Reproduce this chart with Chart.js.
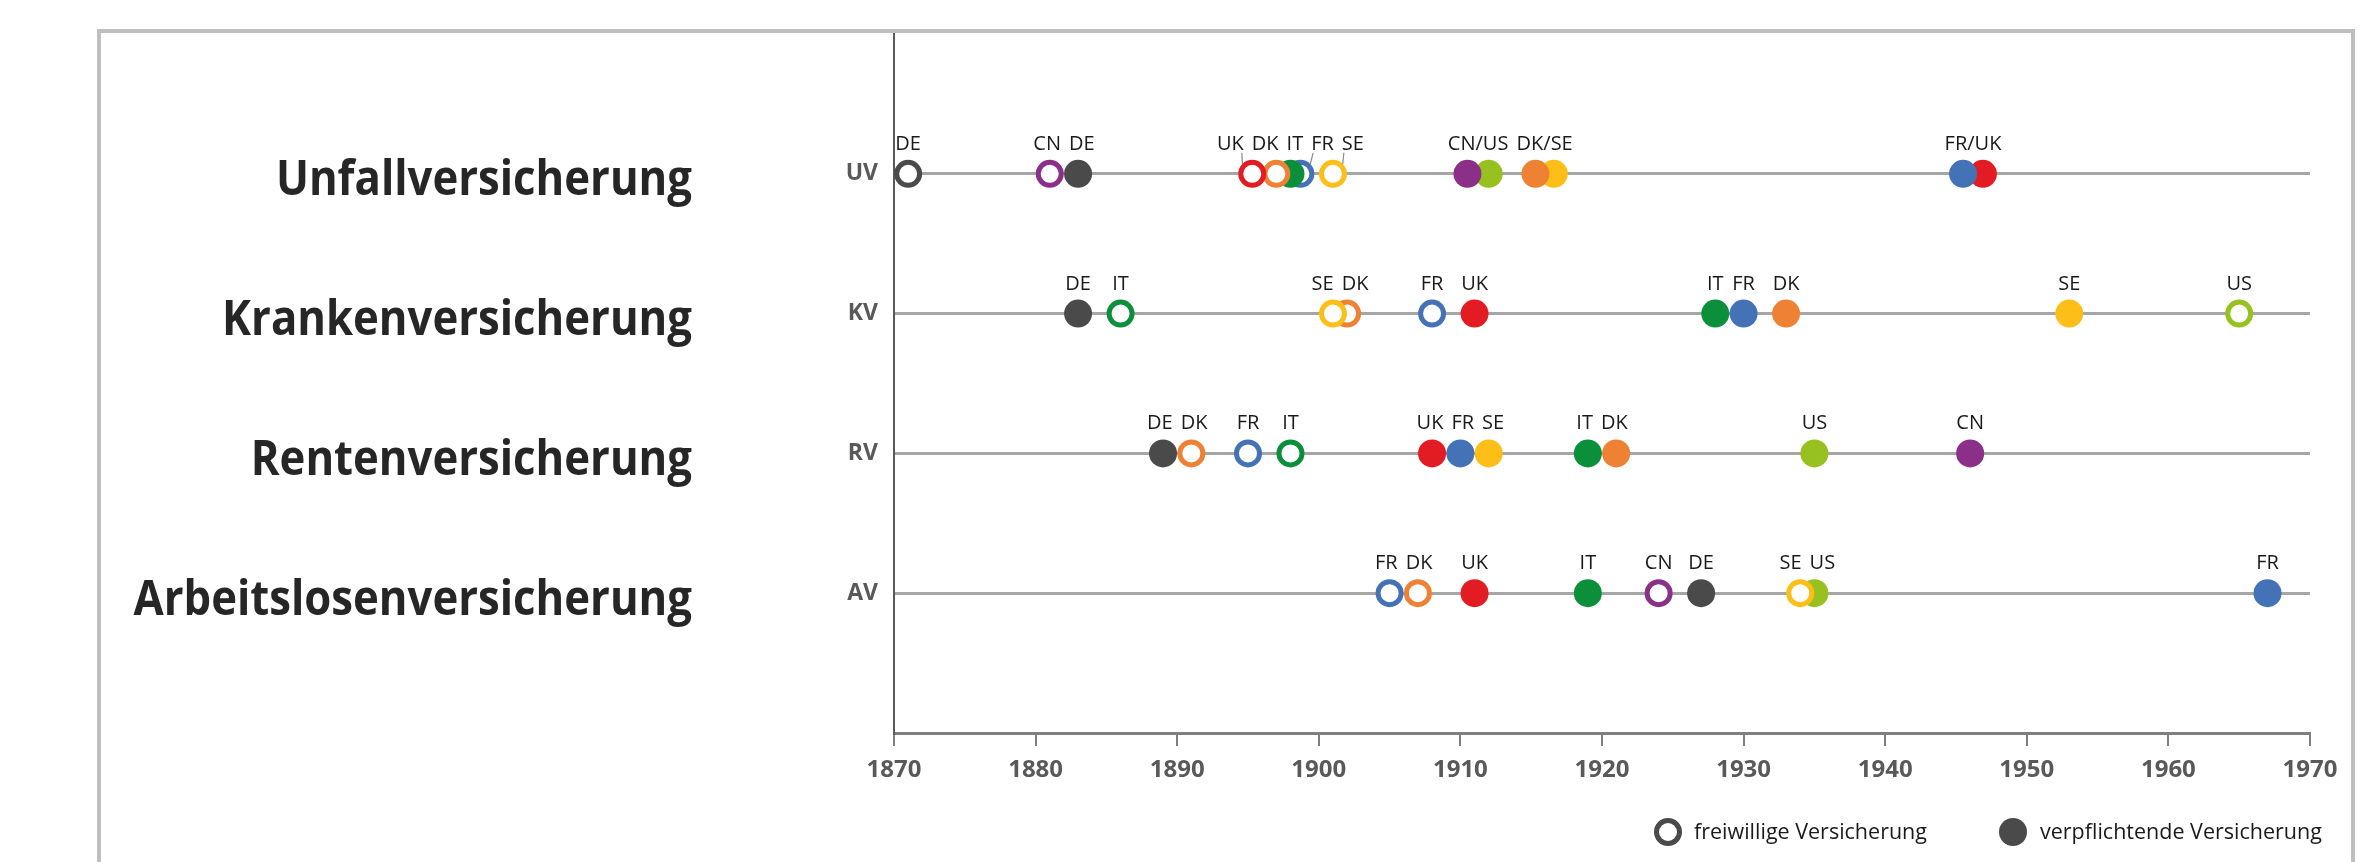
<!DOCTYPE html>
<html>
<head>
<meta charset="utf-8">
<script src="https://cdn.jsdelivr.net/npm/chart.js@4.4.1/dist/chart.umd.min.js"></script>
<style>
  html, body { margin: 0; padding: 0; background: #ffffff; }
  #wrap { position: relative; width: 2375px; height: 862px; }
</style>
</head>
<body>
<div id="wrap"><canvas id="chart" width="2375" height="862"></canvas></div>
<script>
// rows of the timeline (top to bottom)
const rowTitles = ['Unfallversicherung', 'Krankenversicherung', 'Rentenversicherung', 'Arbeitslosenversicherung'];
const rowCodes = ['UV', 'KV', 'RV', 'AV'];
const rowLevels = [4, 3, 2, 1];

const xTicks = [1870, 1880, 1890, 1900, 1910, 1920, 1930, 1940, 1950, 1960, 1970];

// '' label = point shares the label of the next labelled point (e.g. "CN/US")
const uvYears = [1871, 1881, 1883, 1898.7, 1898, 1897, 1895.3, 1901, 1912, 1910.5, 1916.6, 1915.3, 1946.9, 1945.5];
const uvCountries = ['DE', 'CN', 'DE', 'FR', 'IT', 'DK', 'UK', 'SE', 'US', 'CN', 'SE', 'DK', 'UK', 'FR'];
const uvMandatory = [false, false, true, false, true, false, false, false, true, true, true, true, true, true];
const uvLabels = ['DE', 'CN', 'DE', 'FR', 'IT', 'DK', 'UK', 'SE', '', 'CN/US', '', 'DK/SE', '', 'FR/UK'];

const kvYears = [1883, 1886, 1902, 1901, 1908, 1911, 1928, 1930, 1933, 1953, 1965];
const kvCountries = ['DE', 'IT', 'DK', 'SE', 'FR', 'UK', 'IT', 'FR', 'DK', 'SE', 'US'];
const kvMandatory = [true, false, false, false, false, true, true, true, true, true, false];
const kvLabels = ['DE', 'IT', 'DK', 'SE', 'FR', 'UK', 'IT', 'FR', 'DK', 'SE', 'US'];

const rvYears = [1889, 1891, 1895, 1898, 1912, 1910, 1908, 1919, 1921, 1935, 1946];
const rvCountries = ['DE', 'DK', 'FR', 'IT', 'SE', 'FR', 'UK', 'IT', 'DK', 'US', 'CN'];
const rvMandatory = [true, false, false, false, true, true, true, true, true, true, true];
const rvLabels = ['DE', 'DK', 'FR', 'IT', 'SE', 'FR', 'UK', 'IT', 'DK', 'US', 'CN'];

const avYears = [1905, 1907, 1911, 1919, 1924, 1927, 1935, 1934, 1967];
const avCountries = ['FR', 'DK', 'UK', 'IT', 'CN', 'DE', 'US', 'SE', 'FR'];
const avMandatory = [false, false, true, true, false, true, true, false, true];
const avLabels = ['FR', 'DK', 'UK', 'IT', 'CN', 'DE', 'US', 'SE', 'FR'];

const legendLabels = ['freiwillige Versicherung', 'verpflichtende Versicherung'];

const countryColors = {
    DE: '#4a4a4a',
    CN: '#8b2f88',
    UK: '#e31c23',
    DK: '#ef8134',
    IT: '#0c8f3b',
    FR: '#4472b6',
    SE: '#fdbf17',
    US: '#97c11f'
};

const FONT = '"Open Sans", "DejaVu Sans", sans-serif';
const OPEN_R = 11.5, OPEN_W = 5, FULL_R = 14;

function makeDataset(code, level, years, countries, mandatory, labels) {
    return {
        label: code,
        labelsText: labels,
        data: years.map(y => ({ x: y, y: level })),
        pointRadius: mandatory.map(m => m ? FULL_R : OPEN_R),
        pointHoverRadius: mandatory.map(m => m ? FULL_R : OPEN_R),
        pointBorderWidth: mandatory.map(m => m ? 0 : OPEN_W),
        pointBackgroundColor: countries.map((c, i) => mandatory[i] ? countryColors[c] : '#ffffff'),
        pointBorderColor: countries.map(c => countryColors[c]),
        showLine: false
    };
}

const frameAndLabels = {
    id: 'frameAndLabels',
    beforeDraw(chart) {
        const ctx = chart.ctx;
        ctx.save();
        ctx.fillStyle = '#ffffff';
        ctx.fillRect(0, 0, chart.width, chart.height);
        ctx.strokeStyle = '#bfbfbf';
        ctx.lineWidth = 4;
        ctx.strokeRect(99, 31, 2254, 840);
        ctx.restore();
    },
    afterDatasetsDraw(chart) {
        const ctx = chart.ctx;
        ctx.save();
        ctx.font = '20px ' + FONT;
        ctx.textAlign = 'center';
        ctx.textBaseline = 'alphabetic';
        chart.data.datasets.forEach((ds, di) => {
            const meta = chart.getDatasetMeta(di);
            let items = [];
            let pending = [];
            meta.data.forEach((pt, i) => {
                pending.push(pt.x);
                const txt = ds.labelsText[i];
                if (txt !== '') {
                    const cx = pending.reduce((a, b) => a + b, 0) / pending.length;
                    items.push({ text: txt, ideal: cx, px: pt.x, py: pt.y, n: pending.length, w: ctx.measureText(txt).width });
                    pending = [];
                }
            });
            items.sort((a, b) => a.ideal - b.ideal);
            const gap = 8;
            let clusters = items.map(it => ({ items: [it] }));
            const place = cl => {
                const total = cl.items.reduce((s, it) => s + it.w, 0) + gap * (cl.items.length - 1);
                const center = cl.items.reduce((s, it) => s + it.ideal, 0) / cl.items.length;
                let left = center - total / 2;
                cl.items.forEach(it => { it.x = left + it.w / 2; left += it.w + gap; });
                cl.left = center - total / 2;
                cl.right = center + total / 2;
            };
            let merged = true;
            while (merged) {
                merged = false;
                clusters.forEach(place);
                for (let i = 1; i < clusters.length; i++) {
                    if (clusters[i].left < clusters[i - 1].right + gap) {
                        clusters[i - 1].items = clusters[i - 1].items.concat(clusters[i].items);
                        clusters.splice(i, 1);
                        merged = true;
                        break;
                    }
                }
            }
            items.forEach(it => {
                const base = it.py - 24;
                ctx.fillStyle = '#1a1a1a';
                ctx.fillText(it.text, it.x, base);
                const d = it.x - it.px;
                if (it.n === 1 && Math.abs(d) > 14) {
                    ctx.strokeStyle = '#8c8c8c';
                    ctx.lineWidth = 1.2;
                    ctx.beginPath();
                    const sx = d < 0 ? it.x + it.w / 2 - 2 : it.x - it.w / 2 + 2;
                    ctx.moveTo(sx, base + 3);
                    ctx.lineTo(it.px + (d < 0 ? -0.7 : 0.7) * FULL_R, it.py - 0.7 * FULL_R);
                    ctx.stroke();
                }
            });
        });
        ctx.restore();
    },
    afterDraw(chart) {
        const ctx = chart.ctx;
        const yScale = chart.scales.y;
        ctx.save();
        // row titles on the left
        ctx.fillStyle = '#262626';
        ctx.font = 'bold 48px ' + FONT;
        ctx.textAlign = 'right';
        ctx.textBaseline = 'middle';
        rowTitles.forEach((t, i) => {
            const y = yScale.getPixelForValue(rowLevels[i]);
            ctx.save();
            ctx.translate(692, y + 8);
            ctx.scale(0.91, 1);
            ctx.fillText(t, 0, 0);
            ctx.restore();
        });
        // legend
        ctx.font = '21.5px ' + FONT;
        ctx.textAlign = 'left';
        ctx.fillStyle = '#1a1a1a';
        ctx.strokeStyle = '#4a4a4a';
        ctx.lineWidth = OPEN_W;
        ctx.beginPath();
        ctx.arc(1668, 832, OPEN_R, 0, Math.PI * 2);
        ctx.stroke();
        ctx.fillText(legendLabels[0], 1694, 833);
        ctx.fillStyle = '#4a4a4a';
        ctx.beginPath();
        ctx.arc(2013, 832, FULL_R, 0, Math.PI * 2);
        ctx.fill();
        ctx.fillStyle = '#1a1a1a';
        ctx.fillText(legendLabels[1], 2040, 833);
        ctx.restore();
    }
};

new Chart(document.getElementById('chart'), {
    type: 'scatter',
    data: {
        datasets: [
            makeDataset(rowCodes[0], rowLevels[0], uvYears, uvCountries, uvMandatory, uvLabels),
            makeDataset(rowCodes[1], rowLevels[1], kvYears, kvCountries, kvMandatory, kvLabels),
            makeDataset(rowCodes[2], rowLevels[2], rvYears, rvCountries, rvMandatory, rvLabels),
            makeDataset(rowCodes[3], rowLevels[3], avYears, avCountries, avMandatory, avLabels)
        ]
    },
    options: {
        responsive: false,
        animation: false,
        devicePixelRatio: 1,
        layout: { padding: { left: 0, right: 65, top: 34, bottom: 0 } },
        plugins: {
            legend: { display: false },
            tooltip: { enabled: false }
        },
        scales: {
            x: {
                type: 'linear',
                min: xTicks[0],
                max: xTicks[xTicks.length - 1],
                afterBuildTicks(scale) {
                    scale.ticks = xTicks.map(v => ({ value: v }));
                },
                afterFit(scale) { scale.height = 129; },
                border: { color: '#7f7f7f', width: 3 },
                grid: { drawOnChartArea: false, drawTicks: true, tickLength: 13, color: '#7f7f7f', lineWidth: 2 },
                ticks: {
                    color: '#595959',
                    font: { family: FONT, size: 24, weight: 'bold' },
                    padding: 10,
                    maxRotation: 0,
                    callback: v => String(v)
                }
            },
            y: {
                type: 'linear',
                min: 0,
                max: 5,
                afterBuildTicks(scale) {
                    scale.ticks = [0, 1, 2, 3, 4, 5].map(v => ({ value: v }));
                },
                afterFit(scale) { scale.width = 894; },
                border: { color: '#595959', width: 2 },
                grid: {
                    drawTicks: false,
                    lineWidth: 3,
                    color: ctx => (ctx.tick && rowLevels.includes(ctx.tick.value)) ? '#a6a6a6' : 'rgba(0,0,0,0)'
                },
                ticks: {
                    color: '#595959',
                    font: { family: FONT, size: 23, weight: 'bold' },
                    padding: 16,
                    callback: v => {
                        const idx = rowLevels.indexOf(v);
                        return idx >= 0 ? rowCodes[idx] : '';
                    }
                }
            }
        }
    },
    plugins: [frameAndLabels]
});
</script>
</body>
</html>
